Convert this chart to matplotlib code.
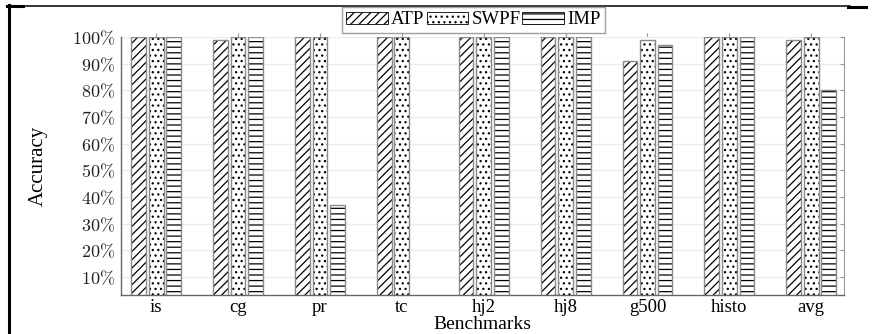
import numpy
from matplotlib import pyplot as plt
from matplotlib.lines import Line2D

#Data
benchmarks = ['is','cg','pr','tc','hj2','hj8','g500','histo','avg']
atp  = [100, 99, 100, 100, 100, 100, 91, 100, 99]
swpf = [100, 100, 100, 100, 100, 100, 99, 100, 100]
imp  = [100, 100, 37, 0, 100, 100, 97, 100, 80]
yticks = [10,20,30,40,50,60,70,80,90,100]

plt.rcParams['mathtext.fontset'] = 'cm'
plt.rcParams['hatch.linewidth'] = 0.9
serif = 'Liberation Serif'

W, H = 878, 334
fig = plt.figure(figsize=(W/100, H/100), dpi=100)
ax = fig.add_axes([121/W, 39/H, (844-121)/W, (295-37)/H])

x = numpy.arange(len(benchmarks))
w = 0.18
off = 0.215
series = [(atp,'////',-off,'ATP'), (swpf,'...',0,'SWPF'), (imp,'---',off,'IMP')]
handles = []
for vals, hatch, dx, lab in series:
    #hatch in black, outline in gray
    ax.bar(x+dx, vals, w, color='white', edgecolor='black', hatch=hatch,
           linewidth=0, zorder=2)
    ax.bar(x+dx, vals, w, color='none', edgecolor='#8a8a8a', linewidth=1.0, zorder=3)
    handles.append(plt.Rectangle((0,0),1,1, facecolor='white', edgecolor='black',
                                 hatch=hatch, linewidth=0.6, label=lab))

ax.set_xlim(-0.43, 8.4)
ax.set_ylim(3.3, 100)
ax.set_yticks(yticks)
ax.set_yticklabels([r'$%d\%%$' % v for v in yticks], fontsize=13, color='#222222')
ax.set_xticks(x)
ax.set_xticklabels(benchmarks, fontsize=13.5, family=serif)
ax.grid(axis='y', color='#ececec', linewidth=1.0, zorder=0)
ax.set_axisbelow(True)

for s in ['left','bottom']:
    ax.spines[s].set_color('#666666')
    ax.spines[s].set_linewidth(1.0)
ax.spines['right'].set_color('#999999')
ax.spines['right'].set_linewidth(0.8)
ax.spines['top'].set_visible(False)
ax.tick_params(axis='y', left=False, right=True, direction='in', length=3,
               color='#999999', pad=4)
ax.tick_params(axis='x', bottom=False, top=True, direction='out', length=3,
               color='#999999', pad=0)

ax.set_ylabel('Accuracy', fontsize=15, family=serif, labelpad=18)
ax.set_xlabel('Benchmarks', fontsize=14, family=serif, labelpad=0)

leg = fig.legend(handles=handles, loc='center', bbox_to_anchor=(473.5/W, 1-20/H),
                 ncol=3, frameon=True, fancybox=False, handlelength=2.2,
                 handleheight=0.6, handletextpad=0.2, columnspacing=0.1,
                 borderpad=0.25, borderaxespad=0,
                 prop={'family': serif, 'size': 13.5})
leg.get_frame().set_edgecolor('#888888')
leg.get_frame().set_linewidth(1.0)

#Page border
fig.add_artist(Line2D([8.5/W, 8.5/W], [0, 1-5/H], color='black', lw=2.2, transform=fig.transFigure))
fig.add_artist(Line2D([7/W, 850/W], [1-5.5/H, 1-5.5/H], color='black', lw=1.1, transform=fig.transFigure))
fig.add_artist(Line2D([7/W, 23/W], [1-5.5/H, 1-5.5/H], color='black', lw=2.2, transform=fig.transFigure))
fig.add_artist(Line2D([848/W, 866/W], [1-6.5/H, 1-6.5/H], color='black', lw=2.2, transform=fig.transFigure))

fig.savefig('out.png', dpi=100)
